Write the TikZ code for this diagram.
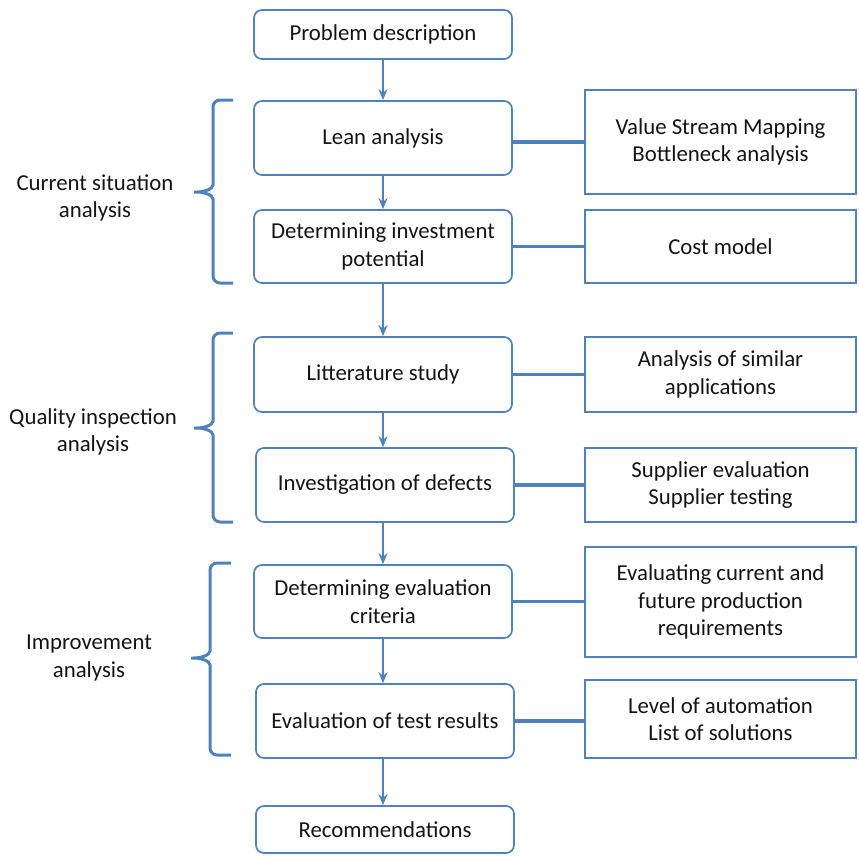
\documentclass[tikz,border=0pt]{standalone}
\usepackage{fontspec}
\setmainfont{Carlito}
\usepackage{tikz}
\usetikzlibrary{shapes, positioning, arrows.meta}
\definecolor{flowblue}{RGB}{79,129,189}
\definecolor{flowtext}{RGB}{20,20,20}

\begin{document}
\begin{tikzpicture}[x=1pt, y=-1pt,
    stage/.style={rectangle, rounded corners=8pt, draw=flowblue, line width=1.7pt, minimum width=258pt, inner sep=0pt, align=center, text=flowtext, font=\fontsize{22.8}{27.5}\selectfont},
    method/.style={rectangle, draw=flowblue, line width=1.7pt, minimum width=271pt, inner sep=0pt, align=center, text=flowtext, font=\fontsize{22.8}{27.5}\selectfont},
    phase/.style={align=center, text=flowtext, font=\fontsize{22.8}{27.5}\selectfont},
    flow/.style={draw=flowblue, line width=2.6pt, -{Stealth[length=11pt, width=9pt]}},
    link/.style={draw=flowblue, line width=3.2pt},
    brace/.style={draw=flowblue, line width=3pt, rounded corners=7pt}]
    \useasboundingbox (0,0) rectangle (859,855);

    % Main steps
    \node[stage, minimum height=49pt] (prob)   at (383,34.5)  {Problem description};
    \node[stage, minimum height=74pt] (lean)   at (383,138)   {Lean analysis};
    \node[stage, minimum height=73pt] (invest) at (383,246.5) {Determining investment\\potential};
    \node[stage, minimum height=75pt] (lit)    at (383,374.5) {Litterature study};
    \node[stage, minimum height=74pt] (defect) at (385,485)   {Investigation of defects};
    \node[stage, minimum height=73pt] (crit)   at (383,601.5) {Determining evaluation\\criteria};
    \node[stage, minimum height=74pt] (test)   at (385,721)   {Evaluation of test results};
    \node[stage, minimum height=47pt] (recom)  at (385,829.5) {Recommendations};

    % Methods
    \node[method, minimum height=104pt] (vsm)      at (720.5,142)   {Value Stream Mapping\\Bottleneck analysis};
    \node[method, minimum height=73pt]  (cost)     at (720.5,246.5) {Cost model};
    \node[method, minimum height=75pt]  (similar)  at (720.5,374.5) {Analysis of similar\\applications};
    \node[method, minimum height=74pt]  (supplier) at (720.5,485)   {Supplier evaluation\\Supplier testing};
    \node[method, minimum height=110pt] (reqs)     at (720.5,602)   {Evaluating current and\\future production\\requirements};
    \node[method, minimum height=78pt]  (autom)    at (720.5,719)   {Level of automation\\List of solutions};

    % Phases
    \node[phase] (cur)  at (95,198) {Current situation\\analysis};
    \node[phase] (qual) at (93,432) {Quality inspection\\analysis};
    \node[phase] (impr) at (89,658) {Improvement\\analysis};

    % Flow - arrows
    \draw[flow] (prob) -- (lean); \draw[flow] (lean) -- (invest); \draw[flow] (invest) -- (lit);
    \draw[flow] (lit) -- (lit |- defect.north); \draw[flow] (lit |- defect.south) -- (crit);
    \draw[flow] (crit) -- (crit |- test.north); \draw[flow] (crit |- test.south) -- (crit |- recom.north);

    % Links to methods
    \draw[link] (vsm.west -| lean.east) -- (vsm.west); \draw[link] (invest) -- (cost);
    \draw[link] (lit) -- (similar); \draw[link] (defect) -- (supplier);
    \draw[link] (crit.east) -- (crit.east -| reqs.west); \draw[link] (test) -- (test -| autom.west);

    % Braces
    \draw[brace] (233,100) -- (213,100) -- (213,178) .. controls (213,189) and (204,192) .. (190,192) .. controls (204,192) and (213,195) .. (213,206) -- (213,283) -- (233,283);
    \draw[brace] (233,333) -- (213,333) -- (213,414) .. controls (213,425) and (204,428) .. (190,428) .. controls (204,428) and (213,431) .. (213,442) -- (213,522) -- (233,522);
    \draw[brace] (231,563) -- (210,563) -- (210,644) .. controls (210,655) and (201,658) .. (187,658) .. controls (201,658) and (210,661) .. (210,672) -- (210,755) -- (231,755);

\end{tikzpicture}
\end{document}
